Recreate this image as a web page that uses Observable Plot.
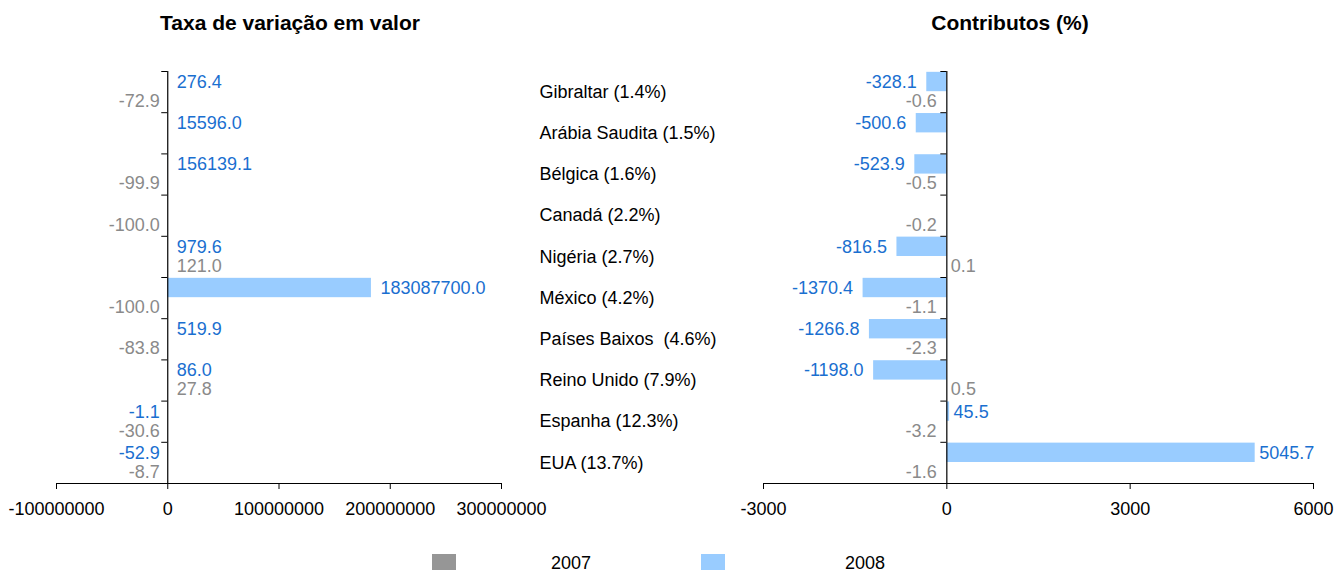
<!DOCTYPE html>
<html><head><meta charset="utf-8">
<script src="https://cdn.jsdelivr.net/npm/d3@7"></script>
<script src="https://cdn.jsdelivr.net/npm/@observablehq/plot@0.6"></script>
<style>
body{margin:0;background:#fff;font-family:"Liberation Sans",Arial,sans-serif;}
#wrap{position:relative;width:1336px;height:572px;overflow:hidden;background:#fff;}
.abs{position:absolute;}
.title{font-weight:bold;font-size:21px;line-height:1;text-align:center;white-space:nowrap;color:#000;}
.leg{font-size:18px;line-height:1;white-space:nowrap;color:#000;}
svg text{white-space:pre;}
</style></head><body><div id="wrap"></div>
<script>
const categories = ["Gibraltar (1.4%)", "Arábia Saudita (1.5%)", "Bélgica (1.6%)", "Canadá (2.2%)", "Nigéria (2.7%)", "México (4.2%)", "Países Baixos  (4.6%)", "Reino Unido (7.9%)", "Espanha (12.3%)", "EUA (13.7%)"];
const taxa2007 = [-72.9, null, -99.9, -100.0, 121.0, -100.0, -83.8, 27.8, -30.6, -8.7];
const taxa2008 = [276.4, 15596.0, 156139.1, null, 979.6, 183087700.0, 519.9, 86.0, -1.1, -52.9];
const contrib2007 = [-0.6, null, -0.5, -0.2, 0.1, -1.1, -2.3, 0.5, -3.2, -1.6];
const contrib2008 = [-328.1, -500.6, -523.9, null, -816.5, -1370.4, -1266.8, -1198.0, 45.5, 5045.7];
const taxaTicks = [-100000000, 0, 100000000, 200000000, 300000000];
const contribTicks = [-3000, 0, 3000, 6000];
const seriesNames = ["2007", "2008"];
const titles = ["Taxa de variação em valor", "Contributos (%)"];

const FONT = '"Liberation Sans", Arial, sans-serif';
const barColor = {"2007": "#969696", "2008": "#99ccff"};
const textColor = {"2007": "#8a8a8a", "2008": "#1a6fd0"};
const slot = {"2008": [0.02, 0.49, 0.26], "2007": [0.49, 0.96, 0.72]};
const n = categories.length;

function rows(a7, a8) {
  return categories.flatMap((c, i) => [
    {c, i, s: seriesNames[0], v: a7[i]},
    {c, i, s: seriesNames[1], v: a8[i]}
  ]).filter(d => d.v != null);
}
const fmt = d => d.v.toFixed(1);

function panel(data, {domain, ticks, width, marginLeft, marginRight, dxPos, dxNeg}) {
  const labelMarks = [];
  for (const s of seriesNames) {
    labelMarks.push(Plot.text(data.filter(d => d.s === s && d.v >= 0), {
      x: "v", y: d => d.i + slot[d.s][2], text: fmt, textAnchor: "start", dx: dxPos, fill: textColor[s]
    }));
    labelMarks.push(Plot.text(data.filter(d => d.s === s && d.v < 0), {
      x: "v", y: d => d.i + slot[d.s][2], text: fmt, textAnchor: "end", dx: dxNeg, fill: textColor[s]
    }));
  }
  return Plot.plot({
    width, height: 530, marginTop: 71, marginBottom: 47, marginLeft, marginRight,
    style: {fontFamily: FONT, fontSize: "18px", background: "none", overflow: "visible", color: "#000"},
    x: {domain, ticks, tickFormat: d => String(d), tickSize: 6, tickPadding: 13, line: true, label: null},
    y: {domain: [n, 0], axis: null},
    color: {domain: seriesNames, range: seriesNames.map(s => barColor[s])},
    marks: [
      Plot.rect(data, {x1: 0, x2: "v", y1: d => d.i + slot[d.s][0], y2: d => d.i + slot[d.s][1], fill: "s"}),
      Plot.ruleX([0], {y1: 0, y2: n, stroke: "#000", strokeWidth: 1.2}),
      Plot.ruleY(d3.range(n + 1), {y: d => d, x1: 0, x2: 0, insetLeft: -6, stroke: "#000"}),
      ...labelMarks
    ]
  });
}

const wrap = document.getElementById("wrap");
function place(el, left, top) {
  el.style.position = "absolute";
  el.style.left = left + "px";
  el.style.top = top + "px";
  wrap.appendChild(el);
}

place(panel(rows(taxa2007, taxa2008), {domain: [-100000000, 300000000], ticks: taxaTicks, width: 530, marginLeft: 56, marginRight: 29, dxPos: 9, dxNeg: -8}), 0, 0);

const mid = Plot.plot({
  width: 205, height: 530, marginTop: 71, marginBottom: 47, marginLeft: 9, marginRight: 0,
  style: {fontFamily: FONT, fontSize: "18px", background: "none", overflow: "visible", color: "#000"},
  y: {domain: [n, 0], axis: null},
  marks: [Plot.text(categories, {y: (d, i) => i + 0.5, text: d => d, frameAnchor: "left", textAnchor: "start", fill: "#000"})]
});
place(mid, 530, 0);

place(panel(rows(contrib2007, contrib2008), {domain: [-3000, 6000], ticks: contribTicks, width: 601, marginLeft: 28, marginRight: 23, dxPos: 4, dxNeg: -10}), 735, 0);

// titles
[[titles[0], 290], [titles[1], 1010]].forEach(([t, cx]) => {
  const d = document.createElement("div");
  d.className = "title";
  d.textContent = t;
  d.style.width = "400px";
  place(d, cx - 200, 11.5);
});

// legend
[[seriesNames[0], 432, 571], [seriesNames[1], 701, 865]].forEach(([s, sx, tx]) => {
  const sw = document.createElement("div");
  sw.style.width = "24px"; sw.style.height = "16px"; sw.style.background = barColor[s];
  place(sw, sx, 554);
  const t = document.createElement("div");
  t.className = "leg";
  t.textContent = s;
  t.style.width = "100px"; t.style.textAlign = "center";
  place(t, tx - 50, 553.8);
});
</script></body></html>
